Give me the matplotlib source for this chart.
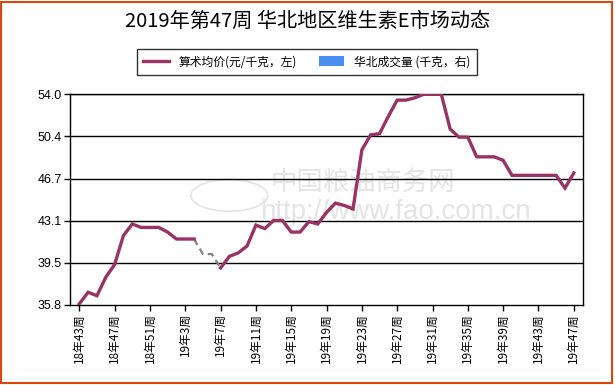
import numpy as np
import matplotlib.pyplot as plt
from matplotlib.patches import Patch, Rectangle
from matplotlib.lines import Line2D

plt.rcParams['font.family'] = ['Noto Sans CJK SC', 'DejaVu Sans']

# 周次 (18年43周 .. 19年47周)
weeks = ['18年%d周' % w for w in range(43, 53)] + ['19年%d周' % w for w in range(1, 48)]

# 算术均价 (元/千克), None = 无数据
price = [35.9, 36.9, 36.6, 38.2, 39.3, 41.8, 42.8, 42.5, 42.5, 42.5,
         42.1, 41.5, 41.5, 41.5, None, None, 39.0, 40.0, 40.3, 40.9,
         42.7, 42.4, 43.1, 43.1, 42.1, 42.1, 43.0, 42.8, 43.8, 44.6,
         44.4, 44.1, 49.2, 50.5, 50.6, 52.1, 53.5, 53.5, 53.7, 54.0,
         54.0, 54.0, 51.0, 50.3, 50.3, 48.6, 48.6, 48.6, 48.3, 47.0,
         47.0, 47.0, 47.0, 47.0, 47.0, 45.9, 47.2]

# 缺失周的虚线连接
gap_idx = [13, 14, 15, 16]
gap_val = [41.5, 40.2, 40.2, 39.0]

yticks = [35.8, 39.5, 43.1, 46.7, 50.4, 54.0]

fig = plt.figure(figsize=(6.15, 3.85), dpi=100)
ax = fig.add_axes([0.1143, 0.2078, 0.8342, 0.5472])

x = np.arange(len(weeks))
y = np.array([np.nan if v is None else v for v in price])

# 网格线
ypos = np.linspace(35.8, 54.0, 6)
for yy in ypos[1:]:
    ax.axhline(yy, color='black', lw=1.0, zorder=1)

ax.plot(gap_idx, gap_val, color='#808080', lw=1.6, ls=(0, (3, 2)), zorder=2)
ax.plot(x, y, color='#993366', lw=2.4, zorder=3, solid_joinstyle='miter')

ax.set_xlim(-1.02, 57.08)
ax.set_ylim(35.8, 54.0)
ax.set_yticks(ypos)
ax.set_yticklabels(['%.1f' % v for v in yticks], fontsize=9, family=['Liberation Sans', 'DejaVu Sans'])
ax.set_xticks(x[::4])
ax.set_xticklabels(weeks[::4], rotation=90, fontsize=8.5)
ax.tick_params(axis='both', direction='out', length=4, width=1, color='black', pad=2)
for s in ax.spines.values():
    s.set_color('black')
    s.set_linewidth(1.0)

# 水印
ax.text(0.39, 0.585, '中国粮油商务网', transform=ax.transAxes, fontsize=19,
        color='#e4e4e4', ha='left', va='center', zorder=0)
ax.text(0.37, 0.44, 'http://www.fao.com.cn', transform=ax.transAxes, fontsize=20,
        color='#e4e4e4', ha='left', va='center', zorder=0, family=['Liberation Sans'])
ax.add_patch(plt.Circle((0.31, 0.52), 0.075, transform=ax.transAxes, fill=False,
                        edgecolor='#e4e4e4', lw=1.2, zorder=0))

fig.text(0.5, 0.945, '2019年第47周 华北地区维生素E市场动态', ha='center', va='center',
         fontsize=14.5)

handles = [Line2D([0], [0], color='#993366', lw=2.4),
           Patch(facecolor='#4a8ef0', edgecolor='none')]
leg = fig.legend(handles, ['算术均价(元/千克，左)', '华北成交量 (千克，右)'],
                 loc='center', bbox_to_anchor=(0.499, 0.84), ncol=2, fontsize=8.5,
                 frameon=True, fancybox=False, edgecolor='black', handlelength=2.2,
                 handleheight=0.9, columnspacing=1.8, borderpad=0.55)
leg.get_frame().set_linewidth(1.0)

# 外框
fig.patches.append(Rectangle((0.0015, 0.004), 0.9935, 0.992, transform=fig.transFigure,
                             fill=False, edgecolor='#d9480f', lw=1.5))

fig.savefig('out.png', dpi=100)
